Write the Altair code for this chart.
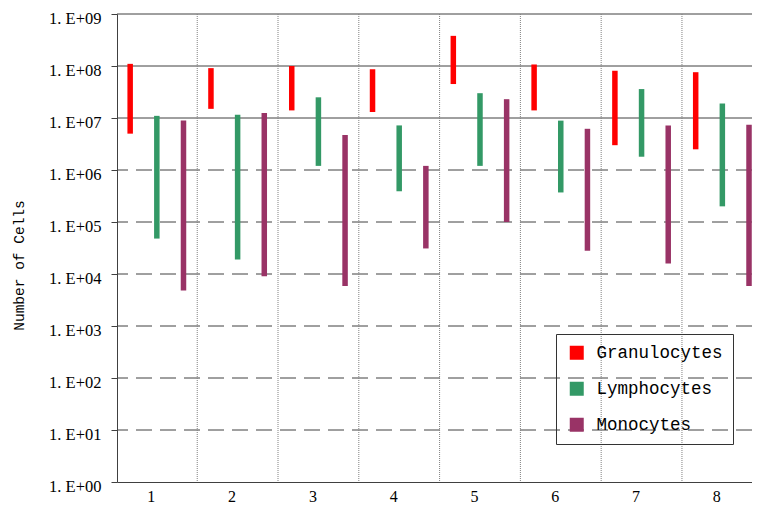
import altair as alt
import pandas as pd

samples = [1, 2, 3, 4, 5, 6, 7, 8]
cell_types = ["Granulocytes", "Lymphocytes", "Monocytes"]
type_colors = ["#FF0000", "#339966", "#993366"]

gran_high = [1.1e8, 9.1e7, 1.0e8, 8.7e7, 3.8e8, 1.07e8, 8.1e7, 7.6e7]
gran_low = [5.0e6, 1.5e7, 1.4e7, 1.3e7, 4.5e7, 1.4e7, 3.0e6, 2.5e6]
lymph_high = [1.1e7, 1.15e7, 2.5e7, 7.2e6, 3.0e7, 8.9e6, 3.6e7, 1.9e7]
lymph_low = [4.8e4, 1.9e4, 1.2e6, 3.9e5, 1.2e6, 3.7e5, 1.8e6, 2.0e5]
mono_high = [9.0e6, 1.25e7, 4.7e6, 1.2e6, 2.3e7, 6.2e6, 7.2e6, 7.4e6]
mono_low = [4.8e3, 9.1e3, 5.9e3, 3.1e4, 1.0e5, 2.8e4, 1.6e4, 5.9e3]

y_ticks = [1, 1e1, 1e2, 1e3, 1e4, 1e5, 1e6, 1e7, 1e8, 1e9]
dashed_grid = [1e1, 1e2, 1e3, 1e4, 1e5, 1e6]
solid_grid = [1e7, 1e8, 1e9]
separators = [1.5, 2.5, 3.5, 4.5, 5.5, 6.5, 7.5]

offsets = {"Granulocytes": -0.33, "Lymphocytes": 0.0, "Monocytes": 0.33}
series = {
    "Granulocytes": (gran_low, gran_high),
    "Lymphocytes": (lymph_low, lymph_high),
    "Monocytes": (mono_low, mono_high),
}
rows = []
for t in cell_types:
    lo, hi = series[t]
    for s, a, b in zip(samples, lo, hi):
        rows.append({"sample": s, "type": t, "low": a, "high": b,
                     "pos": s + offsets[t]})
df = pd.DataFrame(rows)

MONO = "Liberation Mono"
SERIF = "Liberation Serif"
xscale = alt.Scale(domain=[0.507, 8.367], nice=False, zero=False, padding=0)
yscale = alt.Scale(type="log", domain=[1, 1e9], nice=False, padding=0)

xaxis = alt.Axis(values=samples, format="d", title=None, grid=False,
                 ticks=False, labelOffset=-6, labelPadding=6,
                 labelFont=SERIF, labelFontSize=16, labelColor="black",
                 domainColor="#404040")
yaxis = alt.Axis(values=y_ticks, grid=False, title="Number of Cells",
                 labelExpr="'1. E+0' + format(log(datum.value)/LN10, '.0f')",
                 labelFont=SERIF, labelFontSize=16.5, labelColor="black",
                 labelPadding=10, labelOffset=4, tickSize=6,
                 tickColor="#404040", domainColor="#404040", titleFont=MONO,
                 titleFontSize=14.5, titleFontWeight="normal",
                 titleColor="black", titleX=-91, titleY=251)

grid_d = alt.Chart(pd.DataFrame({"v": dashed_grid})).mark_rule(
    color="#404040", strokeWidth=1, strokeDash=[16, 8]
).encode(y=alt.Y("v:Q", scale=yscale, axis=yaxis))

grid_s = alt.Chart(pd.DataFrame({"v": solid_grid})).mark_rule(
    color="#404040", strokeWidth=1
).encode(y=alt.Y("v:Q", scale=yscale, axis=yaxis))

seps = alt.Chart(pd.DataFrame({"s": separators})).mark_rule(
    color="#808080", strokeWidth=1, strokeDash=[1, 1]
).encode(x=alt.X("s:Q", scale=xscale, axis=xaxis))

bars = alt.Chart(df).mark_bar(size=5.5).encode(
    x=alt.X("pos:Q", scale=xscale, axis=xaxis),
    y=alt.Y("high:Q", scale=yscale, axis=yaxis),
    y2="low:Q",
    color=alt.Color("type:N",
                    scale=alt.Scale(domain=cell_types, range=type_colors),
                    legend=alt.Legend(orient="none", legendX=439, legendY=320,
                                      title=None, strokeColor="#333333",
                                      padding=10, symbolType="square",
                                      symbolSize=196, symbolOffset=2,
                                      symbolStrokeWidth=0, labelOffset=11,
                                      rowPadding=17, labelFont=MONO,
                                      labelFontSize=17.5, labelColor="black")),
)

chart = alt.layer(grid_d, grid_s, seps, bars).properties(
    width=635, height=468,
    autosize=alt.AutoSizeParams(type="none"),
    padding={"left": 109, "top": 6, "right": 0, "bottom": 26},
).configure_view(strokeWidth=0)

chart.save("out.html", embed_options={"renderer": "svg", "actions": False})
